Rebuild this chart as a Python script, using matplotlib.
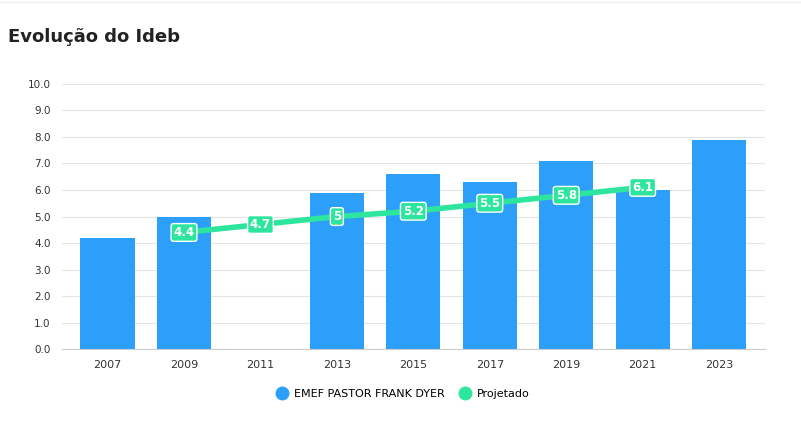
import matplotlib.pyplot as plt
import numpy as np

years = ['2007', '2009', '2011', '2013', '2015', '2017', '2019', '2021', '2023']
escola = [4.2, 5.0, np.nan, 5.9, 6.6, 6.3, 7.1, 6.0, 7.9]
proj_years = ['2009', '2011', '2013', '2015', '2017', '2019', '2021']
projetado = [4.4, 4.7, 5, 5.2, 5.5, 5.8, 6.1]
proj_labels = ['4.4', '4.7', '5', '5.2', '5.5', '5.8', '6.1']

bar_color = '#2b9ff9'
line_color = '#2ee59d'

fig = plt.figure(figsize=(8.01, 4.37), dpi=100)
ax = fig.add_axes([0.077, 0.201, 0.878, 0.607])

x = np.arange(len(years))
ax.bar(x, escola, width=0.71, color=bar_color, zorder=2)
px = [years.index(y) for y in proj_years]
ax.plot(px, projetado, color=line_color, lw=4, zorder=3, solid_capstyle='round')
for xi, v, t in zip(px, projetado, proj_labels):
    ax.text(xi, v, t, ha='center', va='center', color='white', fontsize=8.5, fontweight='bold', zorder=4,
            bbox=dict(boxstyle='round,pad=0.2', fc=line_color, ec='white', lw=1))

ax.set_xlim(-0.6, len(years) - 0.4)
ax.set_ylim(0, 10)
ax.set_yticks(np.arange(0, 10.5, 1))
ax.set_yticklabels([f'{v:.1f}' for v in np.arange(0, 10.5, 1)], fontsize=7.5, color='#333333')
ax.set_xticks(x)
ax.set_xticklabels(years, fontsize=8, color='#333333')
ax.grid(axis='y', color='#e5e5e5', lw=0.8, zorder=0)
for s in ['top', 'right', 'left']:
    ax.spines[s].set_visible(False)
ax.spines['bottom'].set_color('#cccccc')
ax.tick_params(length=0, pad=8)

fig.text(0.01, 0.905, 'Evolução do Ideb', fontsize=13, fontweight='bold', color='#222222')
fig.add_artist(plt.Line2D([0, 1], [0.995, 0.995], color='#eeeeee', lw=1))

h1 = plt.Line2D([], [], marker='o', ls='', color=bar_color, markersize=9)
h2 = plt.Line2D([], [], marker='o', ls='', color=line_color, markersize=9)
fig.legend([h1, h2], ['EMEF PASTOR FRANK DYER', 'Projetado'], loc='center', bbox_to_anchor=(0.5, 0.098),
           ncol=2, frameon=False, fontsize=8, handletextpad=0.1, columnspacing=0.8)

fig.savefig('out.png', dpi=100)
